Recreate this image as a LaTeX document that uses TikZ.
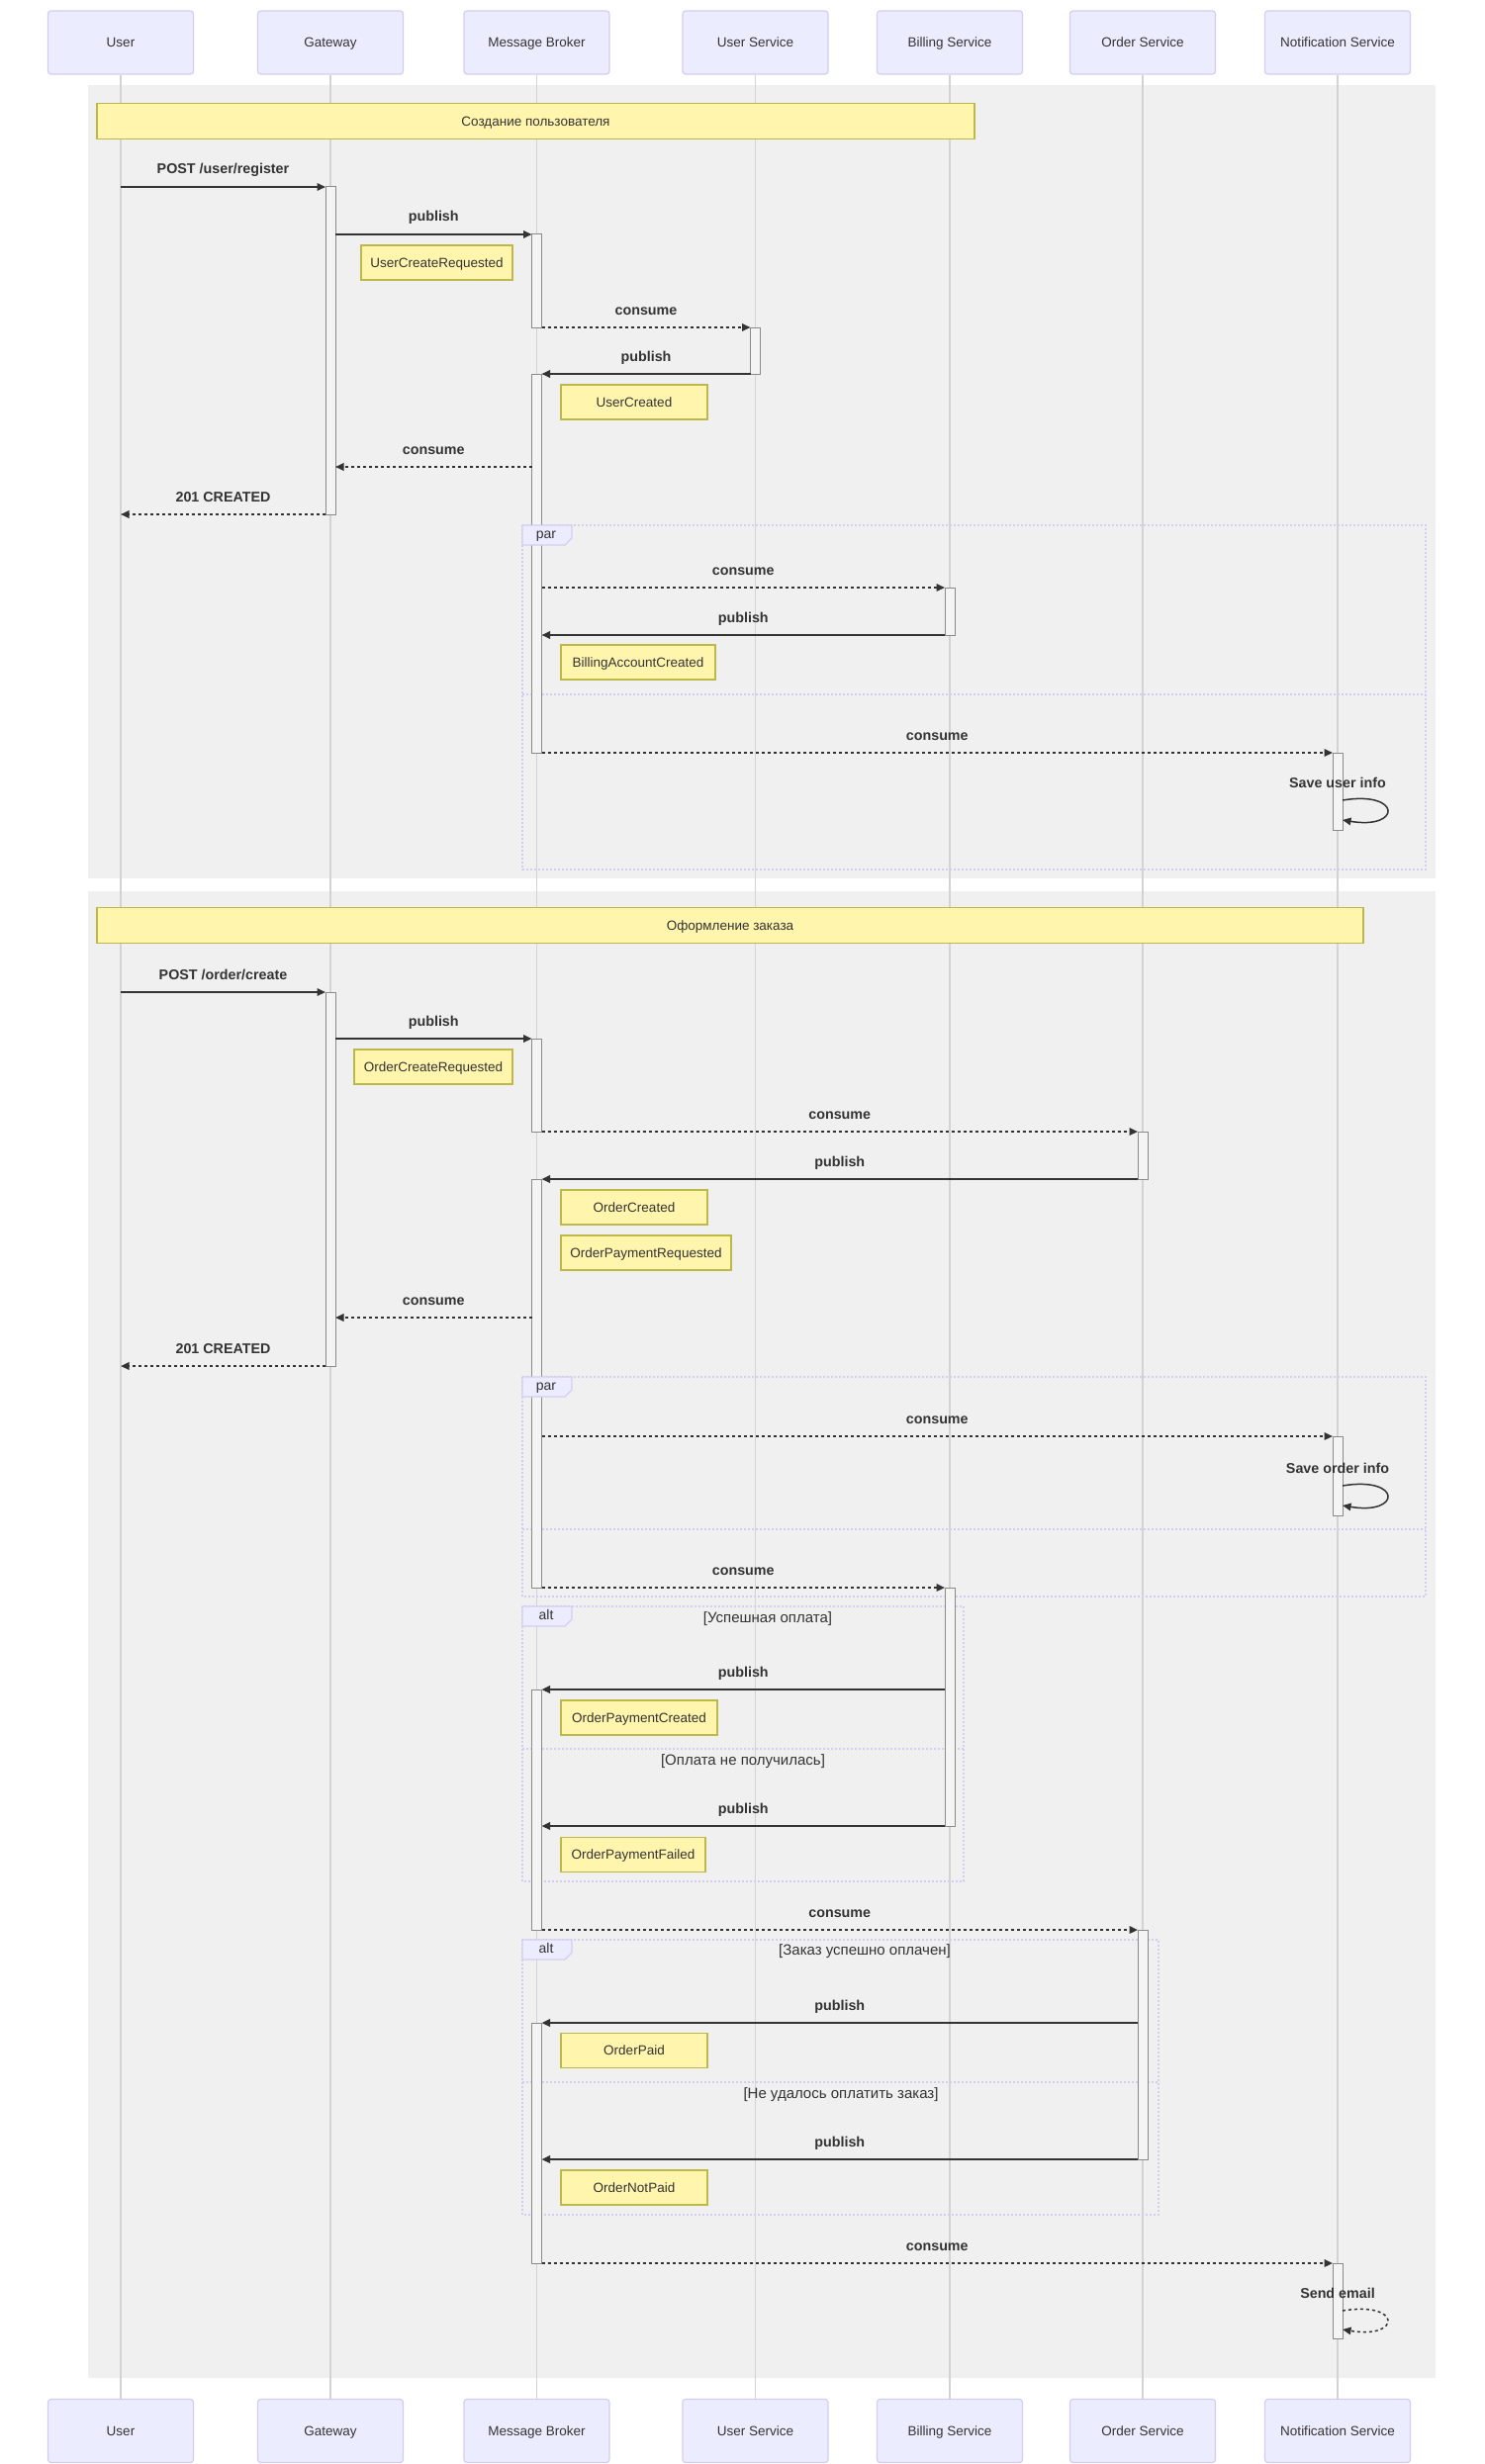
\documentclass[tikz,border=0pt]{standalone}
\usepackage{fontspec}
\setmainfont{Liberation Sans}
\usetikzlibrary{arrows.meta}
\definecolor{actfill}{HTML}{ECECFF}
\definecolor{actdraw}{HTML}{D6CCF2}
\definecolor{notefill}{HTML}{FFF5AD}
\definecolor{notedraw}{HTML}{BDB84A}
\definecolor{secfill}{HTML}{F0F0F0}
\definecolor{lifec}{HTML}{D3D3D3}
\definecolor{ink}{HTML}{333333}
\definecolor{barfill}{HTML}{F4F4F4}
\definecolor{barline}{HTML}{8A8A8A}
\definecolor{framec}{HTML}{D6CCF2}
\tikzset{
 actor/.style={draw=actdraw, fill=actfill, line width=1.2pt, rounded corners=3pt, minimum width=147pt, minimum height=64pt, inner sep=0pt, text height=12.6pt, text depth=2.6pt, text=ink, font=\fontsize{13.5}{16}\selectfont},
 lifeline/.style={draw=lifec, line width=1.2pt},
 section/.style={fill=secfill, draw=none},
 note/.style={draw=notedraw, fill=notefill, line width=1.2pt, minimum height=35pt, inner sep=0pt, text height=12pt, text depth=2.6pt, text=ink, font=\fontsize{13.5}{16}\selectfont},
 actbar/.style={draw=barline, fill=barfill, line width=1pt, minimum width=10pt, inner sep=0pt},
 msgsolid/.style={draw=ink, line width=2pt, -{Triangle[length=8.5pt,width=7.5pt]}},
 msgdot/.style={msgsolid, dash pattern=on 3pt off 3pt},
 lbl/.style={anchor=base, inner sep=0pt, text=ink, font=\bfseries\fontsize{14.3}{17}\selectfont},
 frame/.style={draw=framec, line width=1.5pt, dash pattern=on 2pt off 2pt},
 tabbox/.style={draw=framec, fill=actfill, line width=1.2pt},
 tabtxt/.style={text=ink, font=\fontsize{14}{16}\selectfont, inner sep=0pt, text height=10pt, text depth=3pt},
 cond/.style={text=ink, font=\fontsize{15}{18}\selectfont, inner sep=0pt, text height=10.8pt, text depth=3pt},
}
\newcommand{\seqmsg}[6]{%
 \coordinate (#1s) at (#2,#4);
 \coordinate (#1e) at (#3,#4);
 \draw[#5] (#1s) -- (#1e);
 \node[lbl] (#1l) at ({(#2+#3)/2},{#4-13}) {#6};
}
\newcommand{\actbar}[4]{%
 \node[actbar, minimum height={#4-#3}] (#1) at (#2,{(#3+#4)/2}) {};
}
\begin{document}
\begin{tikzpicture}[x=1pt,y=-1pt]
\useasboundingbox (0,0) rectangle (1500,2491);
\fill[white] (0,0) rectangle (1500,2491);
% sections
\path[section] (89,86) rectangle (1451,888);
\path[section] (89,901) rectangle (1451,2404);
% actors
\node[actor] (uT) at (122,43) {User};
\node[actor] (gT) at (334,43) {Gateway};
\node[actor] (mT) at (542.5,43) {Message Broker};
\node[actor] (usT) at (763.5,43) {User Service};
\node[actor] (bT) at (960,43) {Billing Service};
\node[actor] (oT) at (1155,43) {Order Service};
\node[actor] (nT) at (1352,43) {Notification Service};
\node[actor] (uB) at (122,2457.5) {User};
\node[actor] (gB) at (334,2457.5) {Gateway};
\node[actor] (mB) at (542.5,2457.5) {Message Broker};
\node[actor] (usB) at (763.5,2457.5) {User Service};
\node[actor] (bB) at (960,2457.5) {Billing Service};
\node[actor] (oB) at (1155,2457.5) {Order Service};
\node[actor] (nB) at (1352,2457.5) {Notification Service};
\foreach \a in {u,g,m,us,b,o,n} { \draw[lifeline] (\a T.south) -- (\a B.north); }
% section notes
\node[note, minimum width=887pt, minimum height=36pt] (sn1) at (541.5,122.5) {Создание пользователя};
\node[note, minimum width=1280pt, minimum height=36pt] (sn2) at (738,935.5) {Оформление заказа};
% frames
\draw[frame] (528,531) rectangle (1441,879);
\draw[frame] (528,702) -- (1441,702);
\draw[frame] (528,1392) rectangle (1441,1614);
\draw[frame] (528,1546) -- (1441,1546);
\draw[frame] (528,1624) rectangle (974,1902);
\draw[frame] (528,1768) -- (974,1768);
\node[cond] (c1) at (776,1637) {[Успешная оплата]};
\node[cond] (c2) at (751,1781) {[Оплата не получилась]};
\draw[frame] (528,1961) rectangle (1171,2239);
\draw[frame] (528,2105) -- (1171,2105);
\node[cond] (c3) at (874,1973) {[Заказ успешно оплачен]};
\node[cond] (c4) at (850,2118) {[Не удалось оплатить заказ]};
% activation bars
\actbar{aG1}{334}{189}{520}
\actbar{aG2}{334}{1003}{1381}
\actbar{aM1}{542.5}{237}{331}
\actbar{aM2}{542.5}{378}{761}
\actbar{aM3}{542.5}{1050}{1144}
\actbar{aM4}{542.5}{1192}{1605}
\actbar{aM5}{542.5}{1708}{1951}
\actbar{aM6}{542.5}{2045}{2288}
\actbar{aU1}{763.5}{331}{378}
\actbar{aB1}{960}{594}{642}
\actbar{aB2}{960}{1605}{1846}
\actbar{aO1}{1155}{1144}{1192}
\actbar{aO2}{1155}{1951}{2183}
\actbar{aN1}{1352}{761}{839}
\actbar{aN2}{1352}{1452}{1532}
\actbar{aN3}{1352}{2288}{2364}
% frame tabs (over the bars)
\draw[tabbox] (528,531) -- (578,531) -- (578,544) -- (571,551) -- (528,551) -- cycle;
\node[tabtxt] (par1) at (552,541) {par};
\draw[tabbox] (528,1392) -- (578,1392) -- (578,1405) -- (571,1412) -- (528,1412) -- cycle;
\node[tabtxt] (par2) at (552,1402) {par};
\draw[tabbox] (528,1624) -- (578,1624) -- (578,1637) -- (571,1644) -- (528,1644) -- cycle;
\node[tabtxt] (alt1) at (552,1634) {alt};
\draw[tabbox] (528,1961) -- (578,1961) -- (578,1974) -- (571,1981) -- (528,1981) -- cycle;
\node[tabtxt] (alt2) at (552,1971) {alt};
% notes
\node[note, minimum width=153pt] (n1) at (441.5,265.5) {UserCreateRequested};
\node[note, minimum width=148pt] (n2) at (641,406.5) {UserCreated};
\node[note, minimum width=156pt] (n3) at (645,669.5) {BillingAccountCreated};
\node[note, minimum width=160pt] (n4) at (438,1078.5) {OrderCreateRequested};
\node[note, minimum width=148pt] (n5) at (641,1220.5) {OrderCreated};
\node[note, minimum width=172pt] (n6) at (653,1266.5) {OrderPaymentRequested};
\node[note, minimum width=158pt] (n7) at (646,1736.5) {OrderPaymentCreated};
\node[note, minimum width=146pt] (n8) at (640,1875) {OrderPaymentFailed};
\node[note, minimum width=148pt] (n9) at (641,2073) {OrderPaid};
\node[note, minimum width=148pt] (n10) at (641,2211.5) {OrderNotPaid};
% messages, section 1
\seqmsg{m1}{122}{329}{189}{msgsolid}{POST /user/register}
\seqmsg{m2}{339}{537.5}{237}{msgsolid}{publish}
\seqmsg{m3}{547.5}{758.5}{331}{msgdot}{consume}
\seqmsg{m4}{758.5}{547.5}{378}{msgsolid}{publish}
\seqmsg{m5}{537.5}{339}{472}{msgdot}{consume}
\seqmsg{m6}{329}{122}{520}{msgdot}{201 CREATED}
\seqmsg{m7}{547.5}{955}{594}{msgdot}{consume}
\seqmsg{m8}{955}{547.5}{642}{msgsolid}{publish}
\seqmsg{m9}{547.5}{1347}{761}{msgdot}{consume}
\coordinate (l1s) at (1357,809);
\coordinate (l1e) at (1357,829);
\draw[msgsolid, line width=1.5pt] (l1s) .. controls (1417,799) and (1417,839) .. (l1e);
\node[lbl] (l1l) at (1352,796) {Save user info};
% messages, section 2
\seqmsg{m11}{122}{329}{1003}{msgsolid}{POST /order/create}
\seqmsg{m12}{339}{537.5}{1050}{msgsolid}{publish}
\seqmsg{m13}{547.5}{1150}{1144}{msgdot}{consume}
\seqmsg{m14}{1150}{547.5}{1192}{msgsolid}{publish}
\seqmsg{m15}{537.5}{339}{1332}{msgdot}{consume}
\seqmsg{m16}{329}{122}{1381}{msgdot}{201 CREATED}
\seqmsg{m17}{547.5}{1347}{1452}{msgdot}{consume}
\coordinate (l2s) at (1357,1502);
\coordinate (l2e) at (1357,1522);
\draw[msgsolid, line width=1.5pt] (l2s) .. controls (1417,1492) and (1417,1532) .. (l2e);
\node[lbl] (l2l) at (1352,1489) {Save order info};
\seqmsg{m19}{547.5}{955}{1605}{msgdot}{consume}
\seqmsg{m20}{955}{547.5}{1708}{msgsolid}{publish}
\seqmsg{m21}{955}{547.5}{1846}{msgsolid}{publish}
\seqmsg{m22}{547.5}{1150}{1951}{msgdot}{consume}
\seqmsg{m23}{1150}{547.5}{2045}{msgsolid}{publish}
\seqmsg{m24}{1150}{547.5}{2183}{msgsolid}{publish}
\seqmsg{m25}{547.5}{1347}{2288}{msgdot}{consume}
\coordinate (l3s) at (1357,2336);
\coordinate (l3e) at (1357,2355);
\draw[msgdot, line width=1.5pt] (l3s) .. controls (1417,2326) and (1417,2365) .. (l3e);
\node[lbl] (l3l) at (1352,2323) {Send email};
\end{tikzpicture}
\end{document}
